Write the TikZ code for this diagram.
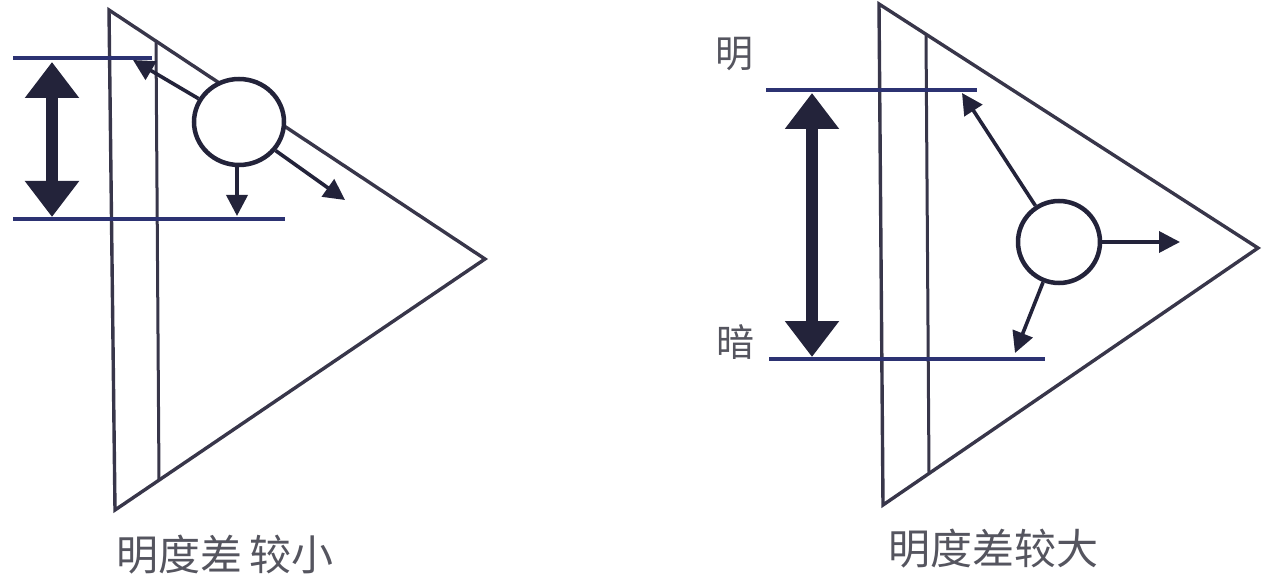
\documentclass[tikz,border=0pt]{standalone}
\usepackage{fontspec}
\newfontfamily\cjk{Noto Sans CJK SC}
\usetikzlibrary{arrows.meta,shapes.geometric}
\definecolor{edgecol}{HTML}{38364A}
\definecolor{levelcol}{HTML}{2C3272}
\definecolor{arrcol}{HTML}{23233A}
\definecolor{txtcol}{HTML}{55555F}
\tikzset{
  tri/.style={draw=edgecol, line width=3.4pt, line join=miter},
  vline/.style={draw=edgecol, line width=3pt},
  level/.style={draw=levelcol, line width=4pt},
  eye/.style={circle, draw=arrcol, fill=white, line width=4.5pt, inner sep=0pt},
  ray/.style={draw=arrcol, line width=3.6pt, -{Triangle[length=21pt,width=21pt]}},
  rangearrow/.style={draw=arrcol, line width=12pt, {Triangle[length=36pt,width=52pt]}-{Triangle[length=36pt,width=52pt]}},
  lbl/.style={text=txtcol, font=\cjk\fontsize{42pt}{46pt}\selectfont, inner sep=0pt},
  side/.style={text=txtcol, font=\cjk\fontsize{38pt}{42pt}\selectfont, inner sep=0pt}
}
\begin{document}
\begin{tikzpicture}[x=1pt,y=-1pt]
\useasboundingbox (0,0) rectangle (1264,588);
% ---------- left figure ----------
\coordinate (lA) at (109,10);
\coordinate (lB) at (485,259);
\coordinate (lC) at (115,510);
\draw[tri] (lA) -- (lB) -- (lC) -- cycle;
\coordinate (lv1) at (156,42);
\coordinate (lv2) at (159,480);
\draw[vline] (lv1) -- (lv2);
\coordinate (lt1) at (13,58);
\coordinate (lt2) at (152,58);
\coordinate (lb1) at (13,219);
\coordinate (lb2) at (285,219);
\draw[level] (lt1) -- (lt2);
\draw[level] (lb1) -- (lb2);
\coordinate (lr1) at (52,62);
\coordinate (lr2) at (52,217);
\draw[rangearrow] (lr1) -- (lr2);
\node[eye, ellipse, minimum width=90pt, minimum height=86pt] (c1) at (239,122) {};
\coordinate (lp1) at (133,60);
\coordinate (lp2) at (237,216);
\coordinate (lp3) at (345,200);
\draw[ray] (c1.150) -- (lp1);
\draw[ray] (c1.south -| lp2) -- (lp2);
\draw[ray] (c1.-38) -- (lp3);
\node[lbl] (t1) at (225,555) {明度差\,较小};
% ---------- right figure ----------
\coordinate (rA) at (879,4);
\coordinate (rB) at (1258,248);
\coordinate (rC) at (883,505);
\draw[tri] (rA) -- (rB) -- (rC) -- cycle;
\coordinate (rv1) at (926,34);
\coordinate (rv2) at (929,473);
\draw[vline] (rv1) -- (rv2);
\coordinate (rt1) at (766,90);
\coordinate (rt2) at (977,90);
\coordinate (rb1) at (769,359);
\coordinate (rb2) at (1045,359);
\draw[level] (rt1) -- (rt2);
\draw[level] (rb1) -- (rb2);
\coordinate (rr1) at (812,93);
\coordinate (rr2) at (812,357);
\draw[rangearrow] (rr1) -- (rr2);
\node[eye, minimum size=82pt] (c2) at (1059,242) {};
\coordinate (rp1) at (962,93);
\coordinate (rp2) at (1180,242);
\coordinate (rp3) at (1015,353);
\draw[ray] (c2) -- (rp1);
\draw[ray] (c2) -- (rp2);
\draw[ray] (c2) -- (rp3);
\node[side] (tb) at (734,54) {明};
\node[side] (td) at (735,342) {暗};
\node[lbl] (t2) at (993,549) {明度差较大};
\end{tikzpicture}
\end{document}
